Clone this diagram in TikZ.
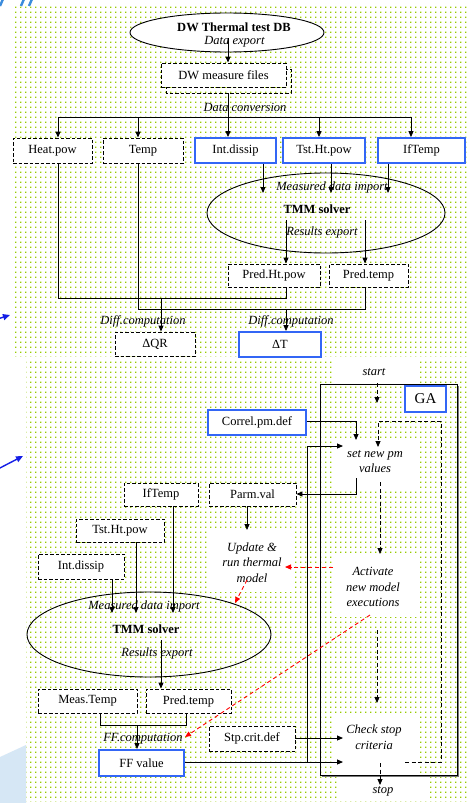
\documentclass[tikz,border=0pt]{standalone}
\usepackage{fontspec}
\setmainfont{Liberation Serif}
\usetikzlibrary{arrows.meta,shapes.geometric,patterns.meta}

\definecolor{dotgreen}{RGB}{153,204,0}
\definecolor{hiblue}{RGB}{51,102,245}
\definecolor{markblue}{RGB}{60,140,220}
\definecolor{arrowblue}{RGB}{20,30,230}
\definecolor{paleblue}{RGB}{214,231,245}
\definecolor{framegray}{RGB}{120,120,120}

\tikzdeclarepattern{
  name=greendots,
  type=uncolored,
  bounding box={(0pt,0pt) and (5pt,5pt)},
  tile size={(5pt,5pt)},
  code={\fill (0pt,0pt) rectangle (1.5pt,1.5pt);}
}

\tikzset{
  basefont/.style={font=\fontsize{12.5}{15.5}\selectfont},
  txt/.style={basefont, inner sep=0pt},
  itx/.style={inner sep=0pt, font=\fontsize{12.5}{15.5}\selectfont\itshape, align=center},
  btx/.style={inner sep=0pt, font=\fontsize{12.5}{15.5}\selectfont\bfseries},
  dbox/.style={basefont, draw, dash pattern=on 3.5pt off 2pt, fill=white, line width=0.9pt, inner sep=0pt},
  bbox/.style={basefont, draw=hiblue, line width=1.8pt, fill=white, inner sep=0pt},
  link/.style={line width=0.9pt},
  arr/.style={line width=0.9pt, -{Triangle[length=6pt,width=5pt]}},
  darr/.style={arr, dash pattern=on 4pt off 2.5pt},
  rarr/.style={arr, red, dash pattern=on 4pt off 3pt},
  ell/.style={ellipse, draw, line width=0.9pt, inner sep=0pt},
  dots/.style={pattern=greendots, pattern color=dotgreen},
}

\begin{document}
\begin{tikzpicture}[x=1pt,y=-1pt]
\useasboundingbox (0,0) rectangle (467,803);
\fill[white] (0,0) rectangle (467,803);

% stray marks along the left border
\foreach \xx in {0,21,29}
  \draw[markblue, line width=2.4pt] (\xx,6) -- (\xx+3,-1);
\fill[paleblue] (0,757) -- (26,745) -- (26,803) -- (0,803) -- cycle;
\draw[arrowblue, line width=1.4pt, -{Triangle[length=7pt,width=6pt]}] (-12,322) -- (10,315);
\draw[arrowblue, line width=1.4pt, -{Triangle[length=7pt,width=6pt]}] (-2,469) -- (23,456);

% dotted panels
\fill[dots] (12,5) rectangle (467,356);
\fill[dots] (26,360) rectangle (467,801);

% plain areas behind the GA texts
\fill[white] (333,360) rectangle (418,383);
\fill[white] (333,438) rectangle (418,488);
\fill[white] (208,531) rectangle (295,592);
\fill[white] (333,556) rectangle (418,617);
\fill[white] (333,716) rectangle (418,775);
\fill[white] (337,776) rectangle (428,801);

% ================= upper flow: measured data to differences
\node[ell, fill=white, minimum width=194pt, minimum height=39pt] (db) at (227,32.5) {};
\node[btx] (dbname) at (234,27) {DW Thermal test DB};
\node[itx] (dbexp) at (234.5,42) {Data export};

\draw[link, dash pattern=on 3.5pt off 2pt] (166,69) rectangle (291,93);
\node[dbox, minimum width=125pt, minimum height=24pt] (mf) at (223.5,75) {DW measure files};
\coordinate (dbout) at (228,38);
\draw[arr] (dbout) -- (dbout |- mf.north);

\coordinate (mfout) at (228,93);
\coordinate (bus) at (228,117);
\coordinate (busl) at (58,117);
\coordinate (busr) at (411,117);
\draw[link] (mfout) -- (bus);
\draw[link] (busl) -- (busr);
\node[itx] (dconv) at (245,107) {Data conversion};

\node[dbox, minimum width=79pt, minimum height=25pt] (heat) at (52.5,150.5) {Heat.pow};
\node[dbox, minimum width=80pt, minimum height=25pt] (temp) at (143,150.5) {Temp};
\node[bbox, minimum width=81pt, minimum height=25pt] (intd) at (235.5,150.5) {Int.dissip};
\node[bbox, minimum width=82pt, minimum height=25pt] (tsth) at (324,150.5) {Tst.Ht.pow};
\node[bbox, minimum width=87pt, minimum height=25pt] (ift) at (421.5,150.5) {IfTemp};

\foreach \xx/\nn in {58/heat,138/temp,228/intd,319/tsth,411/ift}
  \draw[arr] (\xx,117) -- (\xx,0 |- \nn.north);

\node[ell, minimum width=238pt, minimum height=80pt] (tmm) at (326,213) {};
\node[itx] (mimp) at (332,187) {Measured data import};
\node[btx] (tmmname) at (317,209) {TMM solver};
\node[itx] (rexp) at (322,232) {Results export};

\foreach \xx/\nn in {263/intd,331/tsth,388/ift}
  \draw[arr] (\xx,0 |- \nn.south) -- (\xx,193);

\node[dbox, minimum width=92pt, minimum height=23pt] (pht) at (274,275.5) {Pred.Ht.pow};
\node[dbox, minimum width=79pt, minimum height=23pt] (ptmp) at (368.5,275.5) {Pred.temp};
\draw[arr] (286,220) -- (286,0 |- pht.north);
\draw[arr] (365,220) -- (365,0 |- ptmp.north);

\node[itx] (diff1) at (143,321) {Diff.computation};
\node[itx] (diff2) at (291,321) {Diff.computation};
\node[dbox, minimum width=80pt, minimum height=24pt] (dqr) at (155,344) {ΔQR};
\node[bbox, minimum width=82pt, minimum height=25pt] (dt) at (280,344.5) {ΔT};

\draw[link] (58,0 |- heat.south) -- (58,298) -- (286,298) -- (286,0 |- pht.south);
\draw[link] (138,0 |- temp.south) -- (138,309) -- (365,309) -- (365,0 |- ptmp.south);
\draw[arr] (161,298) -- (161,0 |- dqr.north);
\draw[arr] (286,309) -- (286,0 |- dt.north);

% ================= lower flow: GA correlation loop
\node[itx] (start) at (374,372) {start};
\draw[framegray, line width=1.6pt] (458.5,386) -- (458.5,776.5) -- (322,776.5);
\draw[link] (320,384) rectangle (457,775);
\node[bbox, minimum width=41pt, minimum height=26pt, font=\fontsize{15}{17}\selectfont] (ga) at (425.5,399) {GA};
\draw[darr] (377,383) -- (377,403);

\node[itx] (setpm) at (375,461.5) {set new pm\\values};
\node[bbox, minimum width=98pt, minimum height=25pt] (correl) at (257,422.5) {Correl.pm.def};
\draw[arr] (correl.east |- 0,421) -- (356,421) -- (356,440);

\node[dbox, minimum width=87pt, minimum height=23pt] (parm) at (252.5,494.5) {Parm.val};
\node[dbox, minimum width=74pt, minimum height=23pt] (ift2) at (161,494.5) {IfTemp};
\draw[arr] (356,478) -- (356,494) -- (parm.east |- 0,494);
\draw[arr] (247,0 |- parm.south) -- (247,530);

\node[itx] (upd) at (252,562.5) {Update \&\\run thermal\\model};
\draw[darr] (380,482) -- (380,554);
\node[itx] (act) at (373,587) {Activate\\new model\\executions};
\draw[darr] (377,630) -- (377,703);
\node[itx] (chk) at (374,737) {Check stop\\criteria};
\draw[darr] (380,763) -- (380,785);
\node[itx] (stop) at (383,791) {stop};

% dashed loop back to new parameters
\draw[darr] (405,762) -- (441,762) -- (441,421) -- (378,421) -- (378,447);

\node[dbox, minimum width=88pt, minimum height=23pt] (tsth2) at (120,530.5) {Tst.Ht.pow};
\node[dbox, minimum width=86pt, minimum height=25pt] (intd2) at (81,566.5) {Int.dissip};

\node[ell, minimum width=244pt, minimum height=85pt] (tmm2) at (149,634.5) {};
\node[itx] (mimp2) at (144,606) {Measured data import};
\node[btx] (tmmname2) at (146,629) {TMM solver};
\node[itx] (rexp2) at (157,653) {Results export};

\draw[arr] (112,0 |- intd2.south) -- (112,613);
\draw[arr] (136,0 |- tsth2.south) -- (136,613);
\draw[arr] (173,0 |- ift2.south) -- (173,613);

\node[dbox, minimum width=99pt, minimum height=24pt] (meas) at (87.5,701) {Meas.Temp};
\node[dbox, minimum width=85pt, minimum height=24pt] (ptmp2) at (188.5,701) {Pred.temp};
\draw[arr] (161,640) -- (161,0 |- ptmp2.north);

\node[itx] (ffc) at (143,739) {FF.computation};
\node[bbox, minimum width=85pt, minimum height=26pt] (ff) at (141.5,763) {FF value};
\draw[link] (100,0 |- meas.south) -- (100,725) -- (186,725) -- (186,0 |- ptmp2.south);
\draw[arr] (137,725) -- (137,0 |- ff.north);

\node[dbox, minimum width=86pt, minimum height=25pt] (stp) at (252,738.5) {Stp.crit.def};
\draw[arr] (stp.east |- 0,738) -- (343,738);
\draw[arr] (ff.east |- 0,762) -- (343,762);
\draw[arr] (307,762) -- (307,446) -- (343,446);

% model activation hand-offs
\draw[rarr] (333,567) -- (285,567);
\draw[rarr] (247,580) -- (235,603);
\draw[rarr] (370,615) -- (185,737);

\end{tikzpicture}
\end{document}
